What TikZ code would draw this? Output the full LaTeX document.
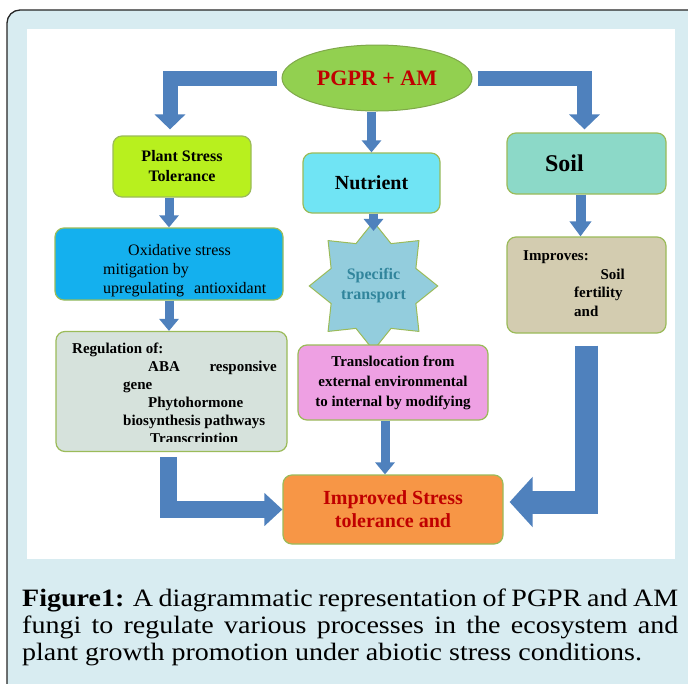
\documentclass[tikz,border=0pt]{standalone}
\usepackage{fontspec}
\setmainfont{Liberation Serif}
\newfontfamily\capfont[FakeStretch=1.12]{Liberation Serif}
\usetikzlibrary{arrows.meta, shapes.geometric}

\definecolor{framebg}{HTML}{D8ECF1}
\definecolor{arrowblue}{HTML}{4F81BD}
\definecolor{boxedge}{HTML}{9BBB59}
\definecolor{pgprfill}{HTML}{92D050}
\definecolor{pgpredge}{HTML}{7FA84A}
\definecolor{plantfill}{HTML}{B8F01E}
\definecolor{nutrfill}{HTML}{70E4F4}
\definecolor{soilfill}{HTML}{8CD9C8}
\definecolor{oxidfill}{HTML}{14B0EE}
\definecolor{regfill}{HTML}{D6E2DC}
\definecolor{starfill}{HTML}{93CDDD}
\definecolor{startext}{HTML}{31859C}
\definecolor{transfill}{HTML}{EEA0E3}
\definecolor{impsfill}{HTML}{D3CCB0}
\definecolor{stressfill}{HTML}{F79646}
\definecolor{darkred}{HTML}{C00000}

\newcommand{\fsz}[2]{\fontsize{#1}{#2}\selectfont}

\begin{document}
\begin{tikzpicture}[x=1pt, y=-1pt,
    box/.style={rectangle, draw=boxedge, line width=1.2pt, rounded corners=9pt, align=center},
    lbl/.style={anchor=base west, inner sep=0pt},
    toparrow/.style={draw=arrowblue, line width=15pt, -{Triangle[length=15pt, width=30pt]}},
    thinarrow/.style={draw=arrowblue, line width=9pt, -{Triangle[length=12pt, width=19pt]}},
    midarrow/.style={draw=arrowblue, line width=10pt, -{Triangle[length=15pt, width=21pt]}},
    bigarrow/.style={draw=arrowblue, line width=17.5pt, -{Triangle[length=18pt, width=32pt]}},
    hugearrow/.style={draw=arrowblue, line width=23pt, -{Triangle[length=23pt, width=49pt]}}]
    \useasboundingbox (0,0) rectangle (688,683);
    \draw[fill=framebg, draw=black!85, line width=1.3pt, rounded corners=13pt] (7,10) rectangle (720,720);
    \fill[white] (27,29) rectangle (675,559);

    \node[ellipse, fill=pgprfill, draw=pgpredge, line width=1pt, minimum width=190pt, minimum height=66pt, text=darkred, font=\bfseries\fsz{22}{26}] (pgpr) at (377,78) {PGPR + AM};
    \node[box, fill=plantfill, minimum width=138pt, minimum height=61pt, font=\bfseries\fsz{16}{20}] (plant) at (182,166.5) {Plant Stress\\Tolerance};
    \node[box, fill=nutrfill, minimum width=137pt, minimum height=60pt, font=\bfseries\fsz{20}{24}] (nutrient) at (371.5,183) {Nutrient};
    \node[box, fill=soilfill, text width=151pt, inner sep=4pt, minimum height=61pt, align=left, font=\bfseries\fsz{24}{28}] (soil) at (586.5,163.5) {\hspace*{34pt}Soil};

    \node[box, fill=oxidfill, minimum width=228pt, minimum height=72pt] (oxid) at (169,264) {};
    \node[lbl, font=\fsz{16}{19}] (oxa) at (128,255) {Oxidative stress};
    \node[lbl, font=\fsz{16}{19}] (oxb) at (103,274) {mitigation by};
    \node[lbl, font=\fsz{16}{19}] (oxc) at (103,293) {\makebox[163pt][s]{upregulating antioxidant}};

    \node[star, star points=8, star point ratio=1.4, minimum size=114pt, inner sep=0pt, fill=starfill, draw=boxedge, line width=1pt, text=startext, align=center, font=\bfseries\fsz{16}{20}] (spec) at (373.5,286) {Specific\\transport};

    \node[box, fill=regfill, minimum width=231pt, minimum height=120pt] (reg) at (171.5,391.5) {};
    \begin{scope}
        \clip (56,332) rectangle (287,441);
        \node[lbl, font=\bfseries\fsz{15}{18}] (rega) at (72,353) {Regulation of:};
        \node[lbl, font=\bfseries\fsz{15}{18}] (regb) at (148,371) {ABA};
        \node[lbl, anchor=base east, font=\bfseries\fsz{15}{18}] (regc) at (277,371) {responsive};
        \node[lbl, font=\bfseries\fsz{15}{18}] (regd) at (123,389) {gene};
        \node[lbl, font=\bfseries\fsz{15}{18}] (rege) at (148,407) {Phytohormone};
        \node[lbl, font=\bfseries\fsz{15}{18}] (regf) at (123,425) {biosynthesis pathways};
        \node[lbl, font=\bfseries\fsz{15}{18}] (regg) at (150,443) {Transcription};
    \end{scope}

    \node[box, fill=transfill, minimum width=190pt, minimum height=75pt, font=\bfseries\fsz{15}{20}] (transl) at (393,382.5) {Translocation from\\external environmental\\to internal by modifying};

    \node[box, fill=impsfill, minimum width=159pt, minimum height=96pt] (improves) at (586.5,285) {};
    \node[lbl, font=\bfseries\fsz{15}{18}] (impa) at (523,260) {Improves:};
    \node[lbl, anchor=base east, font=\bfseries\fsz{15}{18}] (impb) at (625,279) {Soil};
    \node[lbl, font=\bfseries\fsz{15}{18}] (impc) at (574,297) {fertility};
    \node[lbl, font=\bfseries\fsz{15}{18}] (impd) at (574,316) {and};

    \node[box, fill=stressfill, minimum width=220pt, minimum height=69pt, text=darkred, font=\bfseries\fsz{20}{23}] (improved) at (393,509.5) {Improved Stress\\tolerance and};

    \draw[toparrow] ([xshift=-5pt]pgpr.west) -| ([xshift=-12pt, yshift=6pt]plant.north);
    \draw[toparrow] ([xshift=5pt]pgpr.east) -| ([xshift=-2pt, yshift=3pt]soil.north);
    \draw[thinarrow] (nutrient.north |- pgpr.south) -- (nutrient.north);
    \draw[thinarrow] (oxid.north |- plant.south) -- (oxid.north);
    \draw[thinarrow] (oxid.south) -- (oxid.south |- reg.north);
    \draw[thinarrow] (spec.north |- nutrient.south) -- ([yshift=-10pt]spec.north);
    \draw[thinarrow] ([xshift=-8pt]transl.south) -- ([xshift=-8pt]improved.north);
    \draw[midarrow] ([xshift=-6pt]soil.south) -- ([xshift=-6pt]improves.north);
    \draw[bigarrow] ([xshift=-3pt, yshift=-5pt]reg.south) |- (improved.west);
    \draw[hugearrow] ([yshift=-12pt]improves.south) |- ([xshift=6pt, yshift=7.5pt]improved.east);

    \node[lbl, font=\capfont\fsz{25}{27}] (cap1) at (22,606) {\makebox[656pt][s]{\textbf{Figure1:} A diagrammatic representation of PGPR and AM}};
    \node[lbl, font=\capfont\fsz{25}{27}] (cap2) at (22,633) {\makebox[656pt][s]{fungi to regulate various processes in the ecosystem and}};
    \node[lbl, font=\capfont\fsz{25}{27}] (cap3) at (22,660) {plant growth promotion under abiotic stress conditions.};
\end{tikzpicture}
\end{document}
